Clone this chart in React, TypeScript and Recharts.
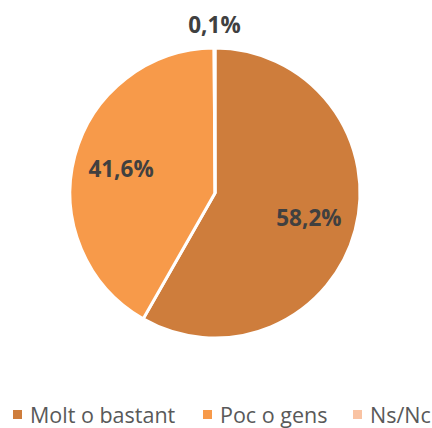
import { PieChart, Pie, Cell, Legend } from 'recharts';

const categories = ['Molt o bastant', 'Poc o gens', 'Ns/Nc'];
const values = [58.2, 41.6, 0.1];
const colors = ['#CE7D3C', '#F79A4A', '#F9C3A3'];

const data = categories.map((name, i) => ({ name, value: values[i] }));

const RADIAN = Math.PI / 180;
const FONT = '"Open Sans", sans-serif';

function renderLabel(props: any) {
  const { cx, cy, midAngle, outerRadius, value } = props;
  const r = value < 1 ? outerRadius + 24 : outerRadius * 0.67;
  const x = cx + r * Math.cos(-midAngle * RADIAN);
  const y = cy + r * Math.sin(-midAngle * RADIAN);
  return (
    <text
      x={x}
      y={y}
      fill="#404040"
      fontSize={22.5}
      fontWeight="bold"
      fontFamily={FONT}
      textAnchor="middle"
      dominantBaseline="central"
    >
      {value.toFixed(1).replace('.', ',') + '%'}
    </text>
  );
}

const legendLeft = [13, 203, 353];

function renderLegend() {
  return (
    <div
      style={{
        position: 'relative',
        height: 30,
        fontFamily: FONT,
        fontSize: 21.5,
        color: '#595959',
      }}
    >
      {categories.map((c, i) => (
        <div
          key={c}
          style={{
            position: 'absolute',
            left: legendLeft[i],
            top: 0,
            display: 'flex',
            alignItems: 'center',
            gap: 8,
            whiteSpace: 'nowrap',
          }}
        >
          <div style={{ width: 9, height: 9, background: colors[i] }} />
          <span>{c}</span>
        </div>
      ))}
    </div>
  );
}

export default function App() {
  return (
    <div style={{ width: 432, height: 428, background: '#fff' }}>
      <style>{'body{margin:0}'}</style>
      <PieChart width={432} height={428} margin={{ top: 0, right: 0, bottom: 0, left: 0 }}>
        <Pie
          data={data}
          dataKey="value"
          cx={215}
          cy={193}
          outerRadius={145}
          startAngle={90}
          endAngle={-270}
          stroke="#ffffff"
          strokeWidth={3}
          label={renderLabel}
          labelLine={false}
          isAnimationActive={false}
        >
          {data.map((d, i) => (
            <Cell key={d.name} fill={colors[i]} />
          ))}
        </Pie>
        <Legend
          verticalAlign="bottom"
          content={renderLegend}
          wrapperStyle={{ bottom: -2, left: 0, width: 432, height: 30 }}
        />
      </PieChart>
    </div>
  );
}
